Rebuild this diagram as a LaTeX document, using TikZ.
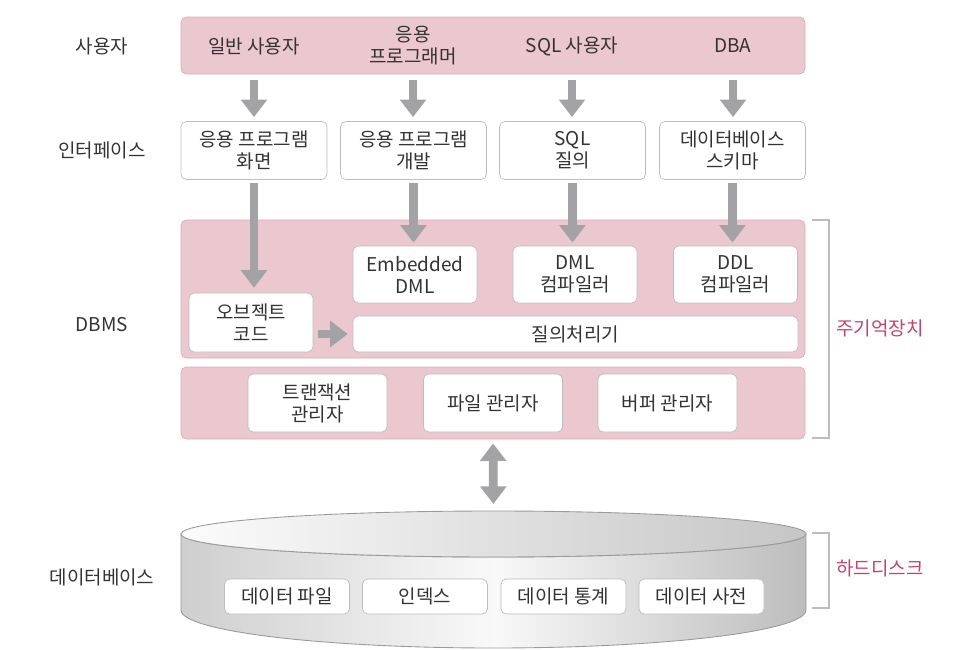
\documentclass[tikz,border=0pt]{standalone}
\usepackage{fontspec}
\setmainfont{Noto Sans CJK KR}
\usetikzlibrary{arrows.meta}
\definecolor{bandpink}{HTML}{EBC7D0}
\definecolor{bandline}{HTML}{D6AFBA}
\definecolor{boxline}{HTML}{BDBDBD}
\definecolor{arrowgray}{HTML}{A3A3A5}
\definecolor{textgray}{HTML}{333333}
\definecolor{memred}{HTML}{C2436E}
\definecolor{diskedge}{HTML}{9A9A9A}
\newcommand{\px}{0.02cm}

\begin{document}
\begin{tikzpicture}[x=\px, y=-\px,
    font=\fontsize{10.8}{12.5}\selectfont, text=textgray,
    band/.style={draw=bandline, fill=bandpink, rounded corners=3pt, minimum width=624*\px, inner sep=0pt},
    wbox/.style={draw=boxline, fill=white, rounded corners=3pt, align=center, inner sep=0pt},
    ibox/.style={wbox, minimum width=146*\px, minimum height=58*\px},
    cbox/.style={wbox, minimum width=124*\px, minimum height=57*\px},
    mbox/.style={wbox, minimum width=139*\px, minimum height=58*\px},
    dbox/.style={wbox, minimum width=125*\px, minimum height=35*\px},
    fat/.style={draw=arrowgray, line width=5pt, -{Triangle[width=14.5pt,length=10pt]}},
    fatboth/.style={fat, {Triangle[width=14.5pt,length=10pt]}-{Triangle[width=14.5pt,length=10pt]}},
    memlabel/.style={text=memred}]
    \useasboundingbox (0,0) rectangle (975,650);
    % row labels
    \node (lusers) at (102,46) {사용자};
    \node (linter) at (102,150) {인터페이스};
    \node (ldbms) at (102,325) {DBMS};
    \node (ldb) at (102,577) {데이터베이스};
    % pink bands
    \node[band, minimum height=57*\px] (users) at (493,45.5) {};
    \node[band, minimum height=138*\px] (dbms) at (493,289) {};
    \node[band, minimum height=72*\px] (core) at (493,403) {};
    \node[align=center] (u1) at (254,46) {일반 사용자};
    \node[align=center] (u2) at (413,46) {응용\\프로그래머};
    \node[align=center] (u3) at (572,46) {SQL 사용자};
    \node[align=center] (u4) at (733,46) {DBA};
    \node[ibox] (i1) at (254,150.5) {응용 프로그램\\화면};
    \node[ibox] (i2) at (413.5,150.5) {응용 프로그램\\개발};
    \node[ibox] (i3) at (572.5,150.5) {SQL\\질의};
    \node[ibox] (i4) at (732.5,150.5) {데이터베이스\\스키마};
    \foreach \u/\i in {u1/i1,u2/i2,u3/i3,u4/i4}
      \draw[fat, shorten <=3.4pt, shorten >=2.3pt] (\u |- users.south) -- (\u |- \i.north);
    % inside the DBMS
    \node[cbox, minimum height=59*\px] (obj) at (251,322.5) {오브젝트\\코드};
    \node[cbox] (emb) at (415,274.5) {Embedded\\DML};
    \node[cbox] (dml) at (575,274.5) {DML\\컴파일러};
    \node[cbox] (ddl) at (735.5,274.5) {DDL\\컴파일러};
    \node[wbox, minimum width=445*\px, minimum height=36*\px] (query) at (575.5,334) {질의처리기};
    \draw[fat, shorten <=2pt, shorten >=2.8pt] (i1.south) -- (i1.south |- obj.north);
    \foreach \i/\c in {i2/emb,i3/dml,i4/ddl}
      \draw[fat, shorten <=2pt, shorten >=1.7pt] (\i.south) -- (\i.south |- \c.north);
    \draw[fat, shorten <=2.8pt, shorten >=2.8pt] (obj.east |- query.west) -- (query.west);
    \node[mbox] (tm) at (317.5,403) {트랜잭션\\관리자};
    \node[mbox] (fm) at (493,403) {파일 관리자};
    \node[mbox] (bm) at (667.5,403) {버퍼 관리자};
    % disk
    \path[draw=diskedge, line width=0.5pt, left color=gray!38, right color=gray!52, middle color=gray!5]
      (181,534) -- (181,610) .. controls (181,631) and (320.9,648) .. (493.5,648)
      .. controls (666.1,648) and (806,631) .. (806,610) -- (806,534)
      .. controls (806,546.7) and (666.1,557) .. (493.5,557)
      .. controls (320.9,557) and (181,546.7) .. (181,534) -- cycle;
    \path[draw=diskedge, line width=0.5pt, left color=gray!3, right color=gray!45]
      (493.5,534) ellipse [x radius=312.5, y radius=23];
    \coordinate (disktop) at (493.5,511);
    \draw[fatboth, shorten <=2.3pt, shorten >=4pt] (core.south) -- (disktop);
    \node[dbox] (df) at (287,596.5) {데이터 파일};
    \node[dbox] (idx) at (425,596.5) {인덱스};
    \node[dbox] (st) at (563.5,596.5) {데이터 통계};
    \node[dbox] (dic) at (701.5,596.5) {데이터 사전};
    % brackets
    \draw[boxline, line width=0.6pt] (812,220) -| (829,438) -- (812,438);
    \draw[boxline, line width=0.6pt] (812,533) -| (829,608) -- (812,608);
    \node[memlabel] (mem) at (880,328) {주기억장치};
    \node[memlabel] (hdd) at (880,568) {하드디스크};
\end{tikzpicture}
\end{document}
